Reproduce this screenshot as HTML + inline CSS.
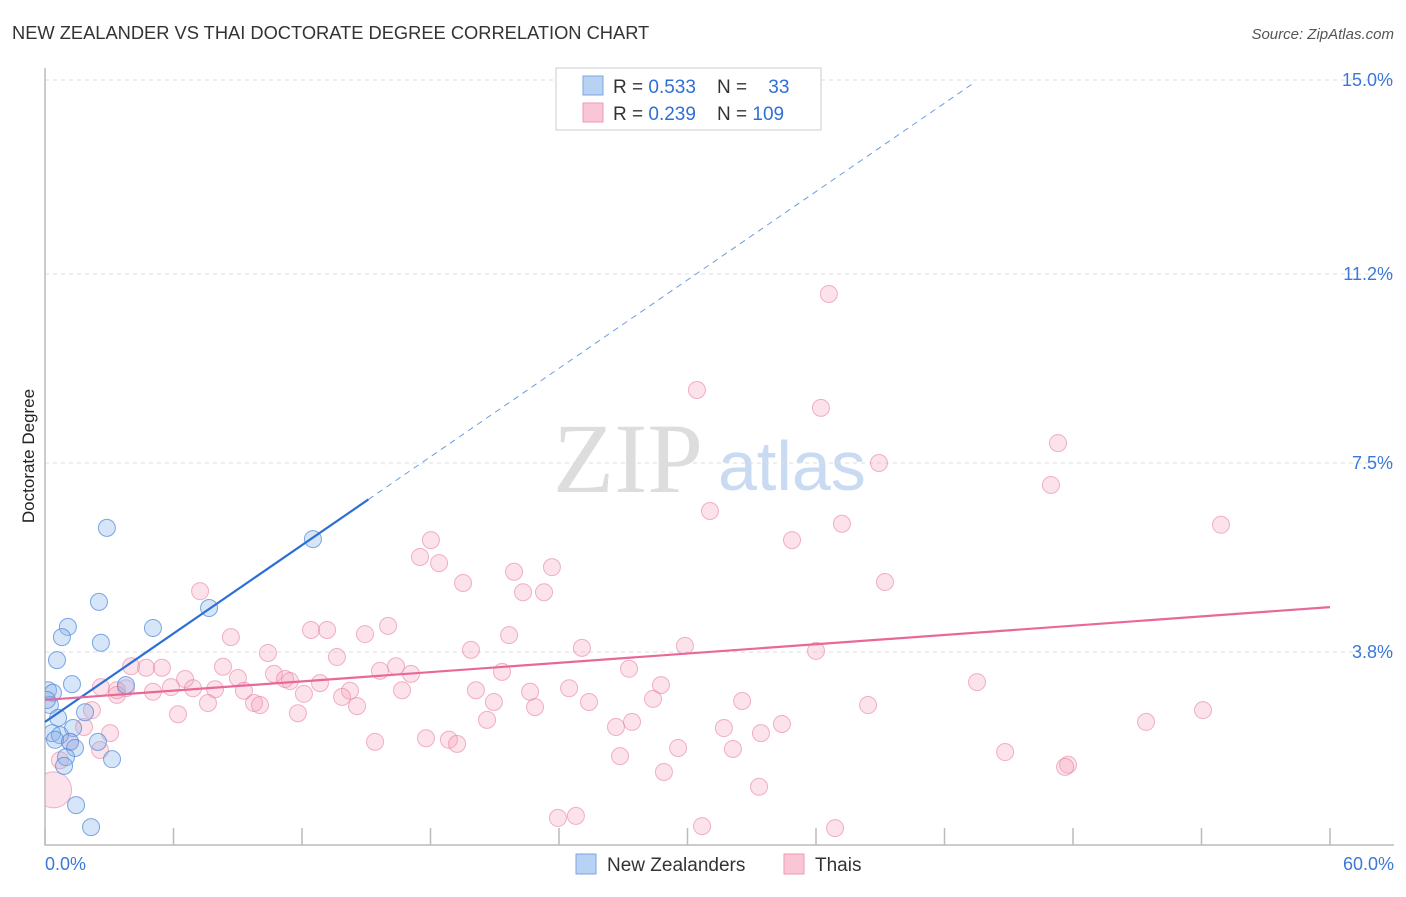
<!DOCTYPE html>
<html><head><meta charset="utf-8"><style>
body{margin:0;background:#fff;font-family:"Liberation Sans",sans-serif}
svg text{font-family:"Liberation Sans",sans-serif;white-space:pre}
</style></head><body>
<svg id="chart" width="1406" height="892">
<defs><clipPath id="plotclip"><rect x="45" y="60" width="1360" height="785"/></clipPath></defs>
<text x="12" y="39" font-size="18.3" fill="#333">NEW ZEALANDER VS THAI DOCTORATE DEGREE CORRELATION CHART</text>
<text x="1394" y="39" font-size="15" fill="#555" font-style="italic" text-anchor="end">Source: ZipAtlas.com</text>
<text x="34" y="456" font-size="17" fill="#222" transform="rotate(-90 34 456)" text-anchor="middle">Doctorate Degree</text>
<g>
<text x="553" y="492" font-size="100" fill="#ddd" style="font-family:'Liberation Serif',serif">ZIP</text>
<text x="718" y="490" font-size="70" fill="#c9dbf2">atlas</text>
</g>
<g id="grid"></g><g id="axes"></g><g id="pts" clip-path="url(#plotclip)"></g><g id="lines"></g>
<g>
<rect x="556" y="68" width="265" height="62" fill="#fff" stroke="#ccc"/>
<rect x="583" y="76" width="20" height="19" fill="#b8d2f3" stroke="#7aa6e0"/>
<rect x="583" y="103" width="20" height="19" fill="#f9c6d5" stroke="#ee9ab4"/>
<text x="613" y="93" font-size="19" fill="#333" xml:space="preserve">R = <tspan fill="#2f6fd6">0.533</tspan>    N =    <tspan fill="#2f6fd6">33</tspan></text>
<text x="613" y="120" font-size="19" fill="#333" xml:space="preserve">R = <tspan fill="#2f6fd6">0.239</tspan>    N = <tspan fill="#2f6fd6">109</tspan></text>
</g>
<g>
<rect x="576" y="854" width="20" height="20" fill="#b8d2f3" stroke="#7aa6e0"/>
<text x="607" y="871" font-size="19" fill="#333">New Zealanders</text>
<rect x="784" y="854" width="20" height="20" fill="#f9c6d5" stroke="#ee9ab4"/>
<text x="815" y="871" font-size="19" fill="#333">Thais</text>
</g>
</svg>
<script>
const yTicks=[15.0,11.2,7.5,3.8];
const yTickLabels=["15.0%","11.2%","7.5%","3.8%"];
const xLabels=["0.0%","60.0%"];
const blueX=[2.89,2.52,7.66,5.04,1.07,0.79,2.61,0.56,12.51,1.26,3.78,0.14,0.37,0.23,1.87,0.61,1.31,0.33,0.70,0.47,1.17,2.47,1.40,0.98,3.13,0.89,1.45,2.15,0.09];
const blueY=[6.23,4.78,4.66,4.27,4.29,4.09,3.98,3.64,6.01,3.17,3.15,3.05,3.00,2.76,2.62,2.51,2.31,2.21,2.17,2.08,2.04,2.04,1.92,1.74,1.70,1.57,0.80,0.37,2.86];
const pinkX=[36.6,30.44,36.23,47.30,38.94,46.97,31.05,37.21,54.91,34.88,18.02,17.51,18.40,21.90,23.67,19.52,39.22,22.32,23.30,7.24,16.02,12.42,13.17,14.94,8.68,21.67,29.88,19.89,25.07,36.0,10.41,13.63,4.02,4.72,5.46,8.31,16.39,15.64,17.09,27.27,21.34,10.69,11.21,11.44,12.84,6.54,9.01,43.52,28.76,2.61,3.36,3.78,5.04,5.88,6.91,7.94,9.29,12.09,14.24,16.67,20.12,22.65,24.47,13.87,28.39,14.57,32.55,38.43,7.61,9.76,10.04,25.40,20.96,22.88,3.36,2.19,54.07,6.21,11.81,20.64,34.41,27.41,51.41,26.66,31.70,33.43,3.04,1.82,1.17,15.41,17.79,18.86,19.24,29.56,32.12,44.83,26.85,47.77,47.63,28.90,33.34,23.95,24.79,30.68,36.89,0.70,0.40,2.57];
const pinkY=[10.81,8.93,8.58,7.89,7.50,7.07,6.56,6.31,6.29,5.99,5.99,5.66,5.54,5.37,5.46,5.15,5.17,4.97,4.97,4.99,4.31,4.23,4.23,4.15,4.09,4.13,3.92,3.84,3.88,3.82,3.78,3.70,3.52,3.49,3.49,3.51,3.52,3.43,3.37,3.47,3.41,3.37,3.27,3.23,3.19,3.27,3.29,3.21,3.15,3.11,3.05,3.09,3.02,3.11,3.09,3.07,3.04,2.98,3.04,3.05,3.05,3.02,3.09,2.92,2.88,2.74,2.84,2.76,2.80,2.80,2.76,2.82,2.82,2.72,2.96,2.66,2.66,2.58,2.60,2.47,2.39,2.43,2.43,2.33,2.31,2.21,2.21,2.33,2.04,2.04,2.11,2.08,2.00,1.92,1.90,1.84,1.76,1.59,1.55,1.45,1.16,0.55,0.59,0.39,0.35,1.68,1.10,1.88];
const blueLine=[2.43,0.2885];
const pinkLine=[2.86,0.0303];
const NS="http://www.w3.org/2000/svg";
const xs=v=>45+v/60*1285;
const ys=v=>846-v/15*766;
function mk(tag,attrs,parent){const e=document.createElementNS(NS,tag);for(const k in attrs)e.setAttribute(k,attrs[k]);document.getElementById(parent).appendChild(e);return e;}
yTicks.forEach((t,i)=>{
 const g=mk('line',{x1:45,x2:1394,y1:ys(t),y2:ys(t),stroke:'#ddd','stroke-dasharray':'4 4'},'grid');
 
 
 const l=mk('text',{x:1393,y:ys(t)+6,'font-size':18,fill:'#3b78d8','text-anchor':'end'},'grid');
 l.textContent=yTickLabels[i];
 
 
});
const ax=mk('path',{d:'M45 68V845H1394',fill:'none',stroke:'#bbb','stroke-width':1.5},'axes');


for(let i=0;i<=10;i++){
 const t=mk('line',{x1:xs(i*6),x2:xs(i*6),y1:828,y2:845,stroke:'#bbb','stroke-width':1.5},'axes');
 
 
}
[[0,'start',45],[60,'end',1394]].forEach((d,i)=>{
 const l=mk('text',{x:d[2],y:870,'font-size':18,fill:'#3b78d8','text-anchor':d[1]},'axes');
 l.textContent=xLabels[i];
 
 
});
pinkX.forEach((x,i)=>{
 const big=(i===pinkX.length-2);
 const c=mk('circle',{cx:xs(x),cy:ys(pinkY[i]),r:big?18:8.5,fill:'rgba(244,160,185,0.3)',stroke:'rgba(232,130,160,0.6)'},'pts');
 
 
});
blueX.forEach((x,i)=>{
 const c=mk('circle',{cx:xs(x),cy:ys(blueY[i]),r:8.5,fill:'rgba(140,180,235,0.35)',stroke:'rgba(80,140,220,0.75)'},'pts');
 
 
});
const bl=mk('line',{x1:xs(0),y1:ys(blueLine[0]),x2:xs(15.1),y2:ys(blueLine[0]+blueLine[1]*15.1),stroke:'#2c6fd6','stroke-width':2.2},'lines');


const bd=mk('line',{x1:xs(15.1),y1:ys(blueLine[0]+blueLine[1]*15.1),x2:xs(43.3),y2:ys(blueLine[0]+blueLine[1]*43.3),stroke:'#6a9de0','stroke-width':1,'stroke-dasharray':'6 5'},'lines');


const pl=mk('line',{x1:xs(0),y1:ys(pinkLine[0]),x2:xs(60),y2:ys(pinkLine[0]+pinkLine[1]*60),stroke:'#e8689a','stroke-width':2.2},'lines');


</script>
</body></html>
